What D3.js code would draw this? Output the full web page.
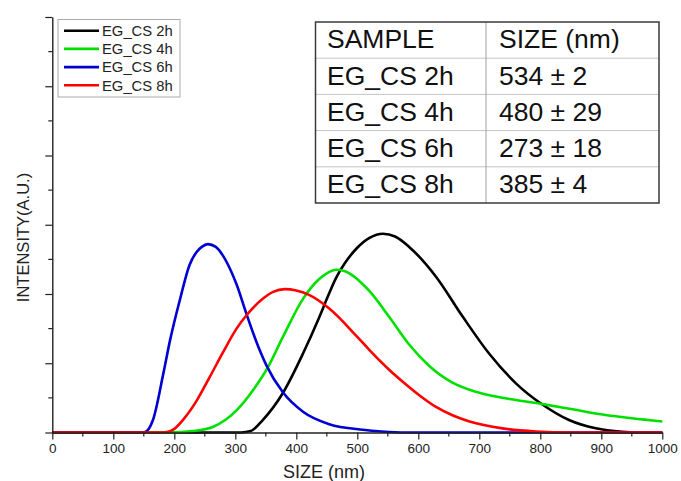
<!DOCTYPE html>
<html>
<head>
<meta charset="utf-8">
<script src="https://cdn.jsdelivr.net/npm/d3@7"></script>
<style>
  html, body { margin: 0; padding: 0; background: #fff; }
  svg { display: block; font-family: "Liberation Sans", Arial, sans-serif; }
</style>
</head>
<body>
<svg id="chart" width="681" height="481"></svg>
<script>
// Particle size distributions (intensity vs. size) for each synthesis time
const seriesNames = ["EG_CS 2h", "EG_CS 4h", "EG_CS 6h", "EG_CS 8h"];
const seriesColors = ["#000000", "#00e000", "#0000d0", "#ff0000"];

const size2h = [0, 310, 325, 345, 378, 411, 438, 452, 465, 480, 498, 520, 542, 562, 585, 629, 673, 716, 760, 804, 847, 891, 934, 960, 1000];
const int2h  = [0, 0, 0.02, 0.18, 0.57, 1.14, 1.67, 1.97, 2.23, 2.45, 2.65, 2.81, 2.87, 2.83, 2.68, 2.25, 1.67, 1.14, 0.71, 0.40, 0.18, 0.06, 0.01, 0, 0];

const size4h = [0, 195, 230, 263, 302, 329, 354, 378, 411, 438, 452, 465, 480, 495, 509, 520, 553, 585, 618, 656, 690, 711, 760, 804, 850, 902, 950, 1000];
const int4h  = [0, 0, 0.02, 0.08, 0.32, 0.61, 0.95, 1.38, 1.93, 2.22, 2.31, 2.35, 2.33, 2.25, 2.14, 2.04, 1.66, 1.27, 0.96, 0.72, 0.60, 0.55, 0.47, 0.41, 0.34, 0.26, 0.205, 0.16];

const size6h = [0, 150, 158, 165, 182, 193, 209, 225, 236, 245, 255, 268, 280, 292, 302, 318, 335, 351, 378, 411, 454, 509, 540, 580, 1000];
const int6h  = [0, 0, 0.05, 0.18, 0.85, 1.33, 1.91, 2.42, 2.60, 2.68, 2.72, 2.68, 2.55, 2.35, 2.14, 1.72, 1.30, 0.97, 0.58, 0.30, 0.12, 0.04, 0.015, 0, 0];

const size8h = [0, 180, 190, 198, 214, 236, 258, 280, 302, 318, 345, 362, 381, 400, 420, 454, 498, 520, 553, 575, 600, 629, 656, 684, 738, 793, 850, 1000];
const int8h  = [0, 0, 0.01, 0.04, 0.18, 0.45, 0.80, 1.16, 1.50, 1.69, 1.93, 2.03, 2.07, 2.05, 1.99, 1.79, 1.40, 1.19, 0.90, 0.73, 0.55, 0.37, 0.25, 0.16, 0.06, 0.015, 0, 0];

const xTicks = [0, 100, 200, 300, 400, 500, 600, 700, 800, 900, 1000];

// Summary table
const tableHeader = ["SAMPLE", "SIZE (nm)"];
const tableSamples = ["EG_CS 2h", "EG_CS 4h", "EG_CS 6h", "EG_CS 8h"];
const tableSizes = ["534 ± 2", "480 ± 29", "273 ± 18", "385 ± 4"];

const svg = d3.select("#chart");

const x = d3.scaleLinear().domain([0, 1000]).range([52.3, 662.3]);
const y = d3.scaleLinear().domain([0, 6]).range([432.5, 17]);

const axisColor = "#222";

// Curves
const series = [
  { name: seriesNames[0], color: seriesColors[0], xs: size2h, ys: int2h },
  { name: seriesNames[1], color: seriesColors[1], xs: size4h, ys: int4h },
  { name: seriesNames[2], color: seriesColors[2], xs: size6h, ys: int6h },
  { name: seriesNames[3], color: seriesColors[3], xs: size8h, ys: int8h }
];

const line = d3.line()
  .x(d => x(d[0]))
  .y(d => y(d[1]))
  .curve(d3.curveMonotoneX);

svg.append("g").selectAll("path")
  .data(series)
  .join("path")
  .attr("d", s => line(s.xs.map((v, i) => [v, s.ys[i]])))
  .attr("fill", "none")
  .attr("stroke", s => s.color)
  .attr("stroke-width", 2.6)
  .attr("stroke-linejoin", "round");

// X axis: major ticks every 100, minor every 50
const xAxisG = svg.append("g").attr("transform", `translate(0,${y(0)})`);
xAxisG.call(d3.axisBottom(x).tickValues(xTicks).tickFormat(d3.format("d"))
    .tickSize(7).tickSizeOuter(0).tickPadding(4))
  .call(g => g.select(".domain").attr("stroke", axisColor).attr("stroke-width", 1.4))
  .call(g => g.selectAll(".tick line").attr("stroke", axisColor).attr("stroke-width", 1.2))
  .call(g => g.selectAll(".tick text").attr("fill", "#222").attr("font-size", 13.5)
    .attr("font-family", "Liberation Sans, Arial, sans-serif"));
xAxisG.selectAll("line.minor")
  .data(d3.range(50, 1000, 100))
  .join("line")
  .attr("class", "minor")
  .attr("x1", d => x(d)).attr("x2", d => x(d))
  .attr("y1", 0).attr("y2", 4)
  .attr("stroke", axisColor).attr("stroke-width", 1.2);

// Y axis: no labels, major ticks each unit, minor halfway
const yAxisG = svg.append("g").attr("transform", `translate(${x(0)},0)`);
yAxisG.call(d3.axisLeft(y).tickValues(d3.range(0, 7)).tickSize(7).tickSizeOuter(0).tickFormat(""))
  .call(g => g.select(".domain").attr("stroke", axisColor).attr("stroke-width", 1.4))
  .call(g => g.selectAll(".tick line").attr("stroke", axisColor).attr("stroke-width", 1.2));
yAxisG.selectAll("line.minor")
  .data(d3.range(0.5, 6, 1))
  .join("line")
  .attr("class", "minor")
  .attr("x1", 0).attr("x2", -4)
  .attr("y1", d => y(d)).attr("y2", d => y(d))
  .attr("stroke", axisColor).attr("stroke-width", 1.2);

// Axis titles
svg.append("text")
  .attr("x", 283).attr("y", 478)
  .attr("font-size", 18).attr("fill", "#222")
  .text("SIZE (nm)");

svg.append("text")
  .attr("transform", "translate(29,237.5) rotate(-90)")
  .attr("text-anchor", "middle")
  .attr("font-size", 16.5).attr("fill", "#222")
  .text("INTENSITY(A.U.)");

// Legend
const legend = svg.append("g");
legend.append("rect")
  .attr("x", 58).attr("y", 19.5).attr("width", 122).attr("height", 77.5)
  .attr("fill", "#fff").attr("stroke", "#aaa").attr("stroke-width", 1);
const legRows = legend.selectAll("g.row")
  .data(series)
  .join("g")
  .attr("class", "row")
  .attr("transform", (d, i) => `translate(0,${30.7 + i * 18.2})`);
legRows.append("line")
  .attr("x1", 64).attr("x2", 99).attr("y1", 0).attr("y2", 0)
  .attr("stroke", d => d.color).attr("stroke-width", 2.6);
legRows.append("text")
  .attr("x", 102).attr("y", 5.2)
  .attr("font-size", 14.8).attr("fill", "#222")
  .text(d => d.name);

// Summary table
const tbl = { left: 315.5, right: 659, top: 22, rowH: 36.2, divider: 486 };
const rows = [tableHeader].concat(tableSamples.map((s, i) => [s, tableSizes[i]]));
const tableG = svg.append("g");
const tblBottom = tbl.top + tbl.rowH * rows.length;
tableG.append("rect")
  .attr("x", tbl.left).attr("y", tbl.top)
  .attr("width", tbl.right - tbl.left).attr("height", tblBottom - tbl.top)
  .attr("fill", "#fff");
tableG.selectAll("line.hrow")
  .data(d3.range(1, rows.length))
  .join("line")
  .attr("class", "hrow")
  .attr("x1", tbl.left).attr("x2", tbl.right)
  .attr("y1", i => tbl.top + i * tbl.rowH).attr("y2", i => tbl.top + i * tbl.rowH)
  .attr("stroke", "#c4c4c4").attr("stroke-width", 1);
tableG.append("line")
  .attr("x1", tbl.divider).attr("x2", tbl.divider)
  .attr("y1", tbl.top).attr("y2", tblBottom)
  .attr("stroke", "#a0a0a0").attr("stroke-width", 1);
tableG.append("rect")
  .attr("x", tbl.left).attr("y", tbl.top)
  .attr("width", tbl.right - tbl.left).attr("height", tblBottom - tbl.top)
  .attr("fill", "none").attr("stroke", "#3a3a3a").attr("stroke-width", 1.5);
rows.forEach((r, i) => {
  const by = tbl.top + i * tbl.rowH + 26.3;
  tableG.append("text").attr("x", 327).attr("y", by)
    .attr("font-size", 26.5).attr("fill", "#111").text(r[0]);
  tableG.append("text").attr("x", 499).attr("y", by)
    .attr("font-size", 26.5).attr("fill", "#111").text(r[1]);
});
</script>
</body>
</html>
